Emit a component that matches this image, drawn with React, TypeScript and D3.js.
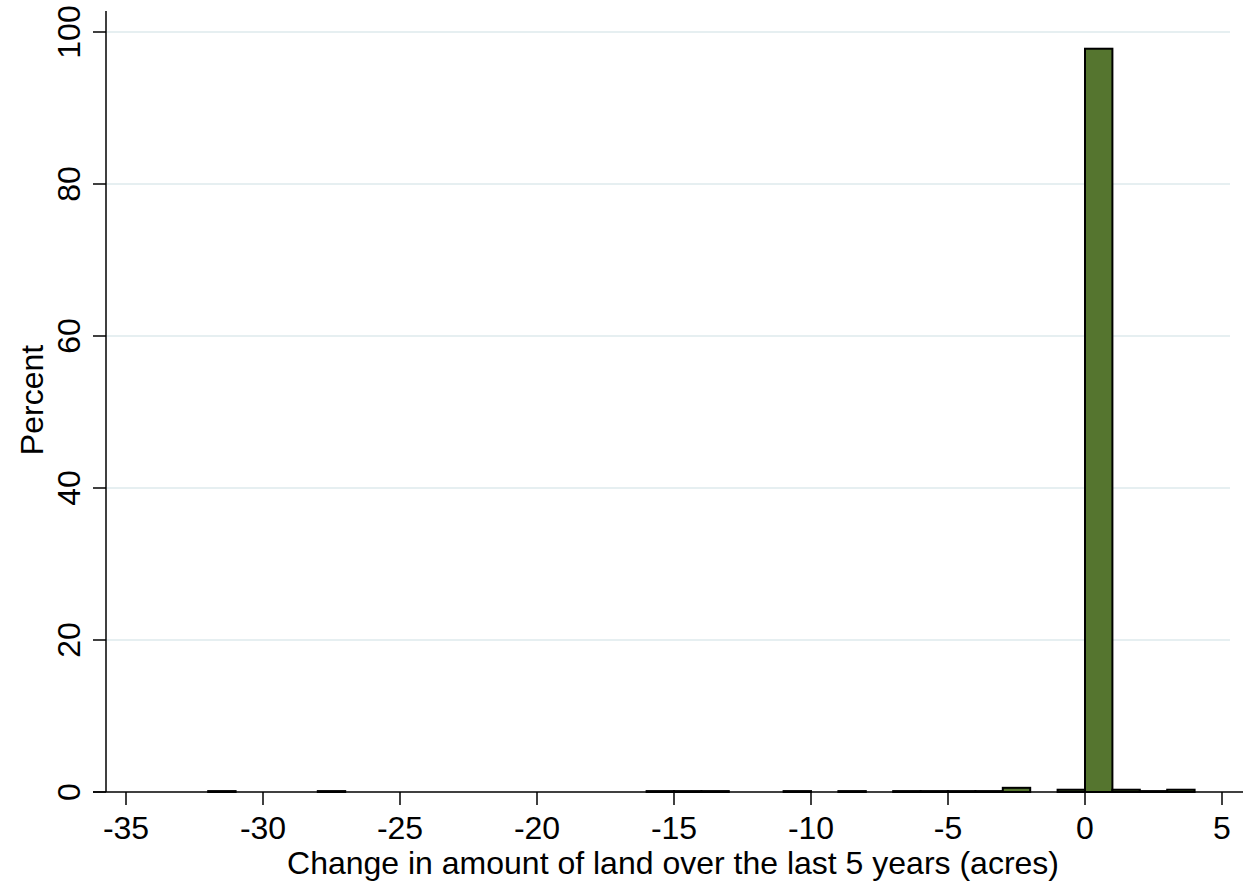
import React from 'react';
import * as d3 from 'd3';

// histogram bins (width 1 acre), left edge of each bin
const binStarts = [-32, -28, -16, -15, -14, -11, -9, -7, -6, -5, -4, -3, -1, 0, 1, 2, 3];
const percents = [0.12, 0.12, 0.12, 0.12, 0.12, 0.12, 0.12, 0.12, 0.12, 0.12, 0.12, 0.55, 0.3, 97.8, 0.3, 0.12, 0.3];
const binWidth = 1;

const xTicks = [-35, -30, -25, -20, -15, -10, -5, 0, 5];
const yTicks = [0, 20, 40, 60, 80, 100];

const xTitle = 'Change in amount of land over the last 5 years (acres)';
const yTitle = 'Percent';

const W = 1249;
const H = 887;
const font = '"Liberation Sans", Arial, Helvetica, sans-serif';
const fs = 32;

export default function App() {
  const x = d3.scaleLinear().domain([-35, 5]).range([126, 1222]);
  const y = d3.scaleLinear().domain([0, 100]).range([792, 32]);

  const axisLeft = 106;
  const plotTop = 11;
  const xLineStart = 93;
  const xLineEnd = 1243;
  const gridEnd = 1230;

  const bins = binStarts.map((b, i) => ({ x0: b, x1: b + binWidth, pct: percents[i] }));

  return (
    <div style={{ position: 'absolute', left: 0, top: 0 }}>
      <svg width={W} height={H} style={{ display: 'block', background: '#fff' }}>
        {/* gridlines */}
        {yTicks.filter(t => t > 0).map(t => (
          <line key={'g' + t} x1={axisLeft} x2={gridEnd} y1={y(t)} y2={y(t)}
            stroke="#e6eff1" strokeWidth={2} />
        ))}

        {/* bars */}
        {bins.map((d, i) => (
          <rect key={i}
            x={x(d.x0)} width={x(d.x1) - x(d.x0)}
            y={y(d.pct)} height={y(0) - y(d.pct)}
            fill="#55752f" stroke="#000" strokeWidth={2} />
        ))}

        {/* y axis */}
        <line x1={axisLeft} x2={axisLeft} y1={plotTop} y2={y(0)} stroke="#000" strokeWidth={1.5} />
        {yTicks.map(t => (
          <g key={'y' + t}>
            <line x1={axisLeft - 13} x2={axisLeft} y1={y(t)} y2={y(t)} stroke="#000" strokeWidth={1.5} />
            <text transform={`translate(80,${y(t)}) rotate(-90)`} textAnchor="middle"
              fontFamily={font} fontSize={fs} fill="#000">{t}</text>
          </g>
        ))}
        <text transform={`translate(43,400) rotate(-90)`} textAnchor="middle"
          fontFamily={font} fontSize={fs} fill="#000">{yTitle}</text>

        {/* x axis */}
        <line x1={xLineStart} x2={xLineEnd} y1={y(0)} y2={y(0)} stroke="#000" strokeWidth={1.5} />
        {xTicks.map(t => (
          <g key={'x' + t}>
            <line x1={x(t)} x2={x(t)} y1={y(0)} y2={y(0) + 13} stroke="#000" strokeWidth={1.5} />
            <text x={x(t)} y={839} textAnchor="middle" fontFamily={font} fontSize={fs} fill="#000">{t}</text>
          </g>
        ))}
        <text x={673} y={874} textAnchor="middle"
          fontFamily={font} fontSize={fs} fill="#000">{xTitle}</text>
      </svg>
    </div>
  );
}
